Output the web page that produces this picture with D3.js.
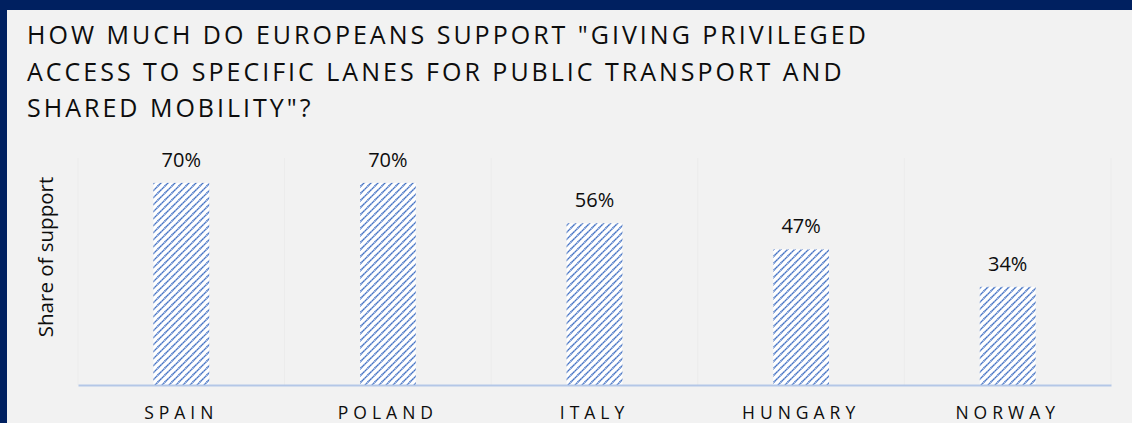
<!DOCTYPE html>
<html>
<head>
<meta charset="utf-8">
<script src="https://cdn.jsdelivr.net/npm/d3@7"></script>
<style>
  body { margin: 0; background: #f2f2f2; }
  svg { display: block; font-family: "Open Sans", sans-serif; }
</style>
</head>
<body>
<div id="chart"></div>
<script>
const countries = ['SPAIN', 'POLAND', 'ITALY', 'HUNGARY', 'NORWAY'];
const support = [0.70, 0.70, 0.56, 0.47, 0.34];
const titleLines = [
    'HOW MUCH DO EUROPEANS SUPPORT "GIVING PRIVILEGED',
    'ACCESS TO SPECIFIC LANES FOR PUBLIC TRANSPORT AND',
    'SHARED MOBILITY"?'
];
const yLabel = 'Share of support';

const width = 1132, height = 423;
const margin = { top: 154, right: 21, bottom: 38, left: 78 };
const innerW = width - margin.left - margin.right;
const innerH = height - margin.top - margin.bottom;

const svg = d3.select('#chart').append('svg')
    .attr('width', width)
    .attr('height', height);

// hatch pattern for bars (wide upward diagonal)
const pattern = svg.append('defs').append('pattern')
    .attr('id', 'hatch')
    .attr('patternUnits', 'userSpaceOnUse')
    .attr('width', 7)
    .attr('height', 7);
pattern.append('rect').attr('width', 7).attr('height', 7).attr('fill', '#ffffff');
pattern.append('path')
    .attr('d', 'M-1,1 l2,-2 M0,7 l7,-7 M6,8 l2,-2')
    .attr('stroke', '#4472c4')
    .attr('stroke-width', 1.7)
    .attr('stroke-dasharray', '1.4,0.4');

// frame
svg.append('rect').attr('width', width).attr('height', height).attr('fill', '#f2f2f2');
svg.append('rect').attr('width', width).attr('height', 10).attr('fill', '#002060');
svg.append('rect').attr('width', 7).attr('height', height).attr('fill', '#002060');

// title
svg.append('g').selectAll('text')
    .data(titleLines)
    .join('text')
    .attr('x', 27)
    .attr('y', (d, i) => 44 + i * 36.5)
    .attr('font-size', 25)
    .attr('letter-spacing', 3)
    .attr('fill', '#0d0d0d')
    .text(d => d);

const g = svg.append('g')
    .attr('transform', `translate(${margin.left},${margin.top})`);

const x = d3.scaleBand()
    .domain(countries)
    .range([0, innerW])
    .paddingInner(0.73)
    .paddingOuter(0.365);

const y = d3.scaleLinear()
    .domain([0, 0.8])
    .range([innerH, 0]);

// faint vertical gridlines at category boundaries
g.append('g').selectAll('line')
    .data(d3.range(countries.length + 1))
    .join('line')
    .attr('x1', i => i * innerW / countries.length)
    .attr('x2', i => i * innerW / countries.length)
    .attr('y1', 4)
    .attr('y2', innerH)
    .attr('stroke', '#ececec')
    .attr('stroke-width', 1);

g.selectAll('.bar')
    .data(countries)
    .join('rect')
    .attr('class', 'bar')
    .attr('x', d => x(d))
    .attr('y', (d, i) => y(support[i]))
    .attr('width', x.bandwidth())
    .attr('height', (d, i) => innerH - y(support[i]))
    .attr('fill', 'url(#hatch)');

g.selectAll('.val')
    .data(countries)
    .join('text')
    .attr('class', 'val')
    .attr('x', d => x(d) + x.bandwidth() / 2)
    .attr('y', (d, i) => y(support[i]) - 16)
    .attr('text-anchor', 'middle')
    .attr('font-size', 20)
    .attr('fill', '#0d0d0d')
    .text((d, i) => d3.format('.0%')(support[i]));

// x axis
const xAxis = g.append('g')
    .attr('transform', `translate(0,${innerH})`)
    .call(d3.axisBottom(x).tickSize(0).tickPadding(22));
xAxis.select('.domain').attr('stroke', '#b4c7e7').attr('stroke-width', 2);
xAxis.selectAll('text')
    .attr('font-size', 17.5)
    .attr('letter-spacing', 5)
    .attr('fill', '#0d0d0d')
    .attr('font-family', '"Open Sans", sans-serif');

// y axis title
svg.append('text')
    .attr('transform', `translate(53,257) rotate(-90)`)
    .attr('text-anchor', 'middle')
    .attr('font-size', 20.5)
    .attr('fill', '#0d0d0d')
    .text(yLabel);
</script>
</body>
</html>
